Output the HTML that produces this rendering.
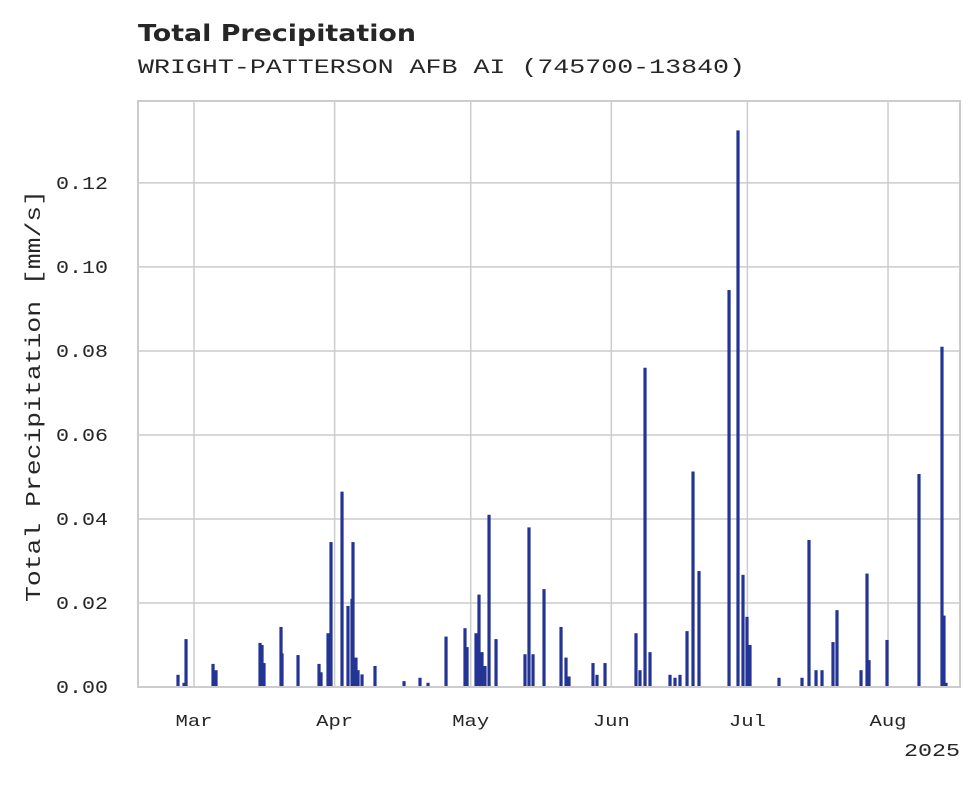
<!DOCTYPE html>
<html><head><meta charset="utf-8"><style>
body{margin:0;background:#fff;}
svg text{font-family:"Liberation Mono",monospace;fill:#262626;}
</style></head><body>
<svg id="chart" width="980" height="783" viewBox="0 0 980 783" xmlns="http://www.w3.org/2000/svg">
<text x="138" y="41" textLength="278" lengthAdjust="spacingAndGlyphs" style="font-family:'DejaVu Sans','Liberation Sans',sans-serif;font-weight:bold;font-size:23px">Total Precipitation</text>
<text x="138" y="73" font-size="20" textLength="607" lengthAdjust="spacingAndGlyphs">WRIGHT-PATTERSON AFB AI (745700-13840)</text>
<g id="grid"></g>
<g id="bars"></g>
<rect x="138" y="101" width="822" height="586" fill="none" stroke="#cccccc" stroke-width="2"/>
<g id="axes"></g>
<text transform="translate(40,396) rotate(-90)" text-anchor="middle" font-size="21" textLength="412" lengthAdjust="spacingAndGlyphs">Total Precipitation [mm/s]</text>
<text x="960" y="756" text-anchor="end" font-size="18" textLength="56" lengthAdjust="spacingAndGlyphs">2025</text>
</svg>
<script>
// days since 2025-03-01
const days=[-3.53,-2.20,-1.76,4.19,4.85,14.55,14.99,15.43,19.18,19.40,22.93,27.56,28.00,29.54,30.20,32.63,33.95,34.83,35.05,35.71,36.16,37.04,39.90,46.30,49.82,51.59,55.56,59.74,60.19,62.17,62.83,63.49,64.15,65.04,66.58,72.97,73.85,74.74,77.16,80.91,82.01,82.67,87.96,88.84,90.61,97.44,98.32,99.43,100.53,104.94,106.04,107.14,108.69,110.01,111.33,117.95,119.93,121.03,121.91,122.57,128.97,134.04,135.58,137.13,138.45,140.87,141.75,147.05,148.37,148.81,152.78,159.83,164.90,165.34,165.78];
const precip=[0.0029,0.001,0.0114,0.0055,0.004,0.0105,0.010,0.0057,0.0143,0.008,0.0076,0.0055,0.0035,0.0128,0.0345,0.0465,0.0193,0.021,0.0345,0.007,0.004,0.003,0.005,0.0014,0.0022,0.001,0.012,0.014,0.0095,0.0128,0.022,0.0083,0.005,0.041,0.0114,0.0078,0.038,0.0078,0.0233,0.0143,0.007,0.0025,0.0057,0.0029,0.0057,0.0128,0.004,0.076,0.0083,0.0029,0.0022,0.0029,0.0133,0.0513,0.0276,0.0945,0.1325,0.0267,0.0167,0.010,0.0022,0.0022,0.035,0.004,0.004,0.0107,0.0183,0.004,0.027,0.0064,0.0112,0.0507,0.081,0.017,0.001];
const yTicks=[0,0.02,0.04,0.06,0.08,0.10,0.12];
const yTickLabels=["0.00","0.02","0.04","0.06","0.08","0.10","0.12"];
const monthDays=[0,31,61,92,122,153];
const monthLabels=["Mar","Apr","May","Jun","Jul","Aug"];

const NS="http://www.w3.org/2000/svg";
const X0=138,X1=960,Y0=687,Y1=101;
const dMin=-12.35,dMax=168.87,vMax=0.1395;
const xs=d=>X0+(d-dMin)/(dMax-dMin)*(X1-X0);
const ys=v=>Y0-v/vMax*(Y0-Y1);
function mk(tag,attrs,parent){const e=document.createElementNS(NS,tag);for(const k in attrs)e.setAttribute(k,attrs[k]);parent.appendChild(e);return e;}
const grid=document.getElementById('grid'),bars=document.getElementById('bars'),axes=document.getElementById('axes');
yTicks.forEach((t,i)=>{
  const l=mk('line',{x1:X0,x2:X1,y1:ys(t),y2:ys(t),stroke:'#cccccc','stroke-width':1.5},grid);
  
  
  const tx=mk('text',{x:108,y:ys(t)+6,'text-anchor':'end','font-size':18,textLength:52,lengthAdjust:'spacingAndGlyphs'},axes);
  tx.textContent=yTickLabels[i];
  
  
});
monthDays.forEach((d,i)=>{
  const l=mk('line',{x1:xs(d),x2:xs(d),y1:Y1,y2:Y0,stroke:'#cccccc','stroke-width':1.5},grid);
  
  
  const tx=mk('text',{x:xs(d),y:726,'text-anchor':'middle','font-size':17,textLength:37,lengthAdjust:'spacingAndGlyphs'},axes);
  tx.textContent=monthLabels[i];
  
  
});
days.forEach((d,i)=>{
  const y=ys(precip[i]);
  const r=mk('rect',{x:xs(d)-1.6,y:y,width:3.2,height:Y0-y,fill:'#233494'},bars);
  
  
});
</script>
</body></html>
